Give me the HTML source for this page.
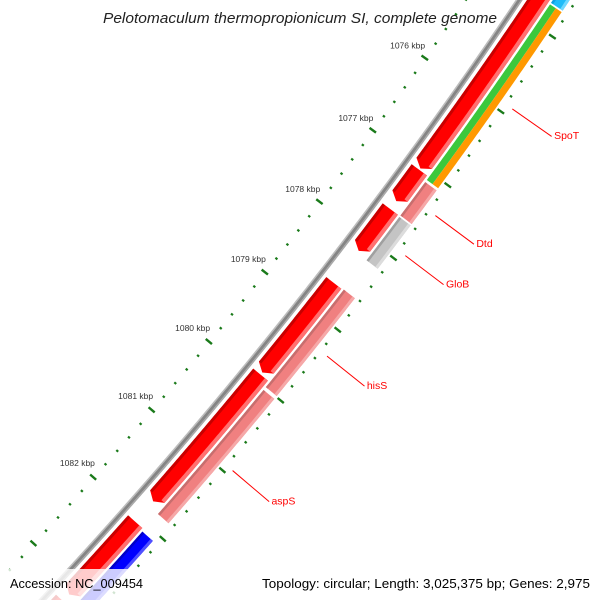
<!DOCTYPE html>
<html><head><meta charset="utf-8"><style>
html,body{margin:0;padding:0;background:#fff;width:600px;height:600px;overflow:hidden}
svg{display:block;overflow:hidden}
</style></head><body>
<svg id="map" width="600" height="600" viewBox="0 0 600 600" xmlns="http://www.w3.org/2000/svg">
<g id="marks"></g>
<text x="300" y="23" text-anchor="middle" font-family="'Liberation Sans',sans-serif" font-style="italic" font-size="15" fill="#222" textLength="394" lengthAdjust="spacingAndGlyphs">Pelotomaculum thermopropionicum SI, complete genome</text>
<rect x="0" y="569" width="600" height="31" fill="#fff" fill-opacity="0.8"/>
<text x="10" y="588" font-family="'Liberation Sans',sans-serif" font-size="13" fill="#000" textLength="133" lengthAdjust="spacingAndGlyphs">Accession: NC_009454</text>
<text x="590" y="588" text-anchor="end" font-family="'Liberation Sans',sans-serif" font-size="13" fill="#000" textLength="328" lengthAdjust="spacingAndGlyphs">Topology: circular; Length: 3,025,375 bp; Genes: 2,975</text>
</svg>
<script>
// ---- data ----
const majorTicks = [1074000,1075000,1076000,1077000,1078000,1079000,1080000,1081000,1082000,1083000,1084000];
const tickLabels = ["1074 kbp","1075 kbp","1076 kbp","1077 kbp","1078 kbp","1079 kbp","1080 kbp","1081 kbp","1082 kbp","",""];
const minorStep = 200;
const track1Starts = [1073800,1077050,1077590,1078620,1079920,1082060,1083250];
const track1Ends   = [1077030,1077480,1078170,1079890,1081760,1083150,1084200];
const track2Starts = [1074000,1074720,1077120,1077600,1078610,1080030,1082090];
const track2Ends   = [1074700,1077090,1077580,1078200,1079990,1081830,1083400];
const track2Kinds  = ["cyan","spot","pink","gray","pink","pink","blue"];
const labelNames = ["SpoT","Dtd","GloB","hisS","aspS"];
const labelFeature = [1,2,3,4,5];

function circle(p1,p2,p3){
  const ax=p1[0],ay=p1[1],bx=p2[0],by=p2[1],cx=p3[0],cy=p3[1];
  const d=2*(ax*(by-cy)+bx*(cy-ay)+cx*(ay-by));
  const ux=((ax*ax+ay*ay)*(by-cy)+(bx*bx+by*by)*(cy-ay)+(cx*cx+cy*cy)*(ay-by))/d;
  const uy=((ax*ax+ay*ay)*(cx-bx)+(bx*bx+by*by)*(ax-cx)+(cx*cx+cy*cy)*(bx-ax))/d;
  return [ux,uy,Math.hypot(ax-ux,ay-uy)];
}
const C=circle([492,40],[308,290],[70,570]);
const CX=C[0],CY=C[1],R0=C[2];
const aA=Math.atan2(58-CY,425-CX), aB=Math.atan2(477-CY,93-CX);
const kAng=(aB-aA)/6000;
function ang(bp){return aA+(bp-1076000)*kAng;}
function pt(bp,r){const a=ang(bp);return [CX+(R0+r)*Math.cos(a),CY+(R0+r)*Math.sin(a)];}
const NS="http://www.w3.org/2000/svg";
const G=document.getElementById('marks');
function mk(tag,attrs){const e=document.createElementNS(NS,tag);for(const k in attrs)e.setAttribute(k,attrs[k]);G.appendChild(e);return e;}
function arcPts(b1,b2,r){const n=Math.max(2,Math.ceil(Math.abs(b2-b1)/25));const o=[];for(let i=0;i<=n;i++){o.push(pt(b1+(b2-b1)*i/n,r));}return o;}
function bandPath(b1,b2,r1,r2){const a=arcPts(b1,b2,r1),b=arcPts(b2,b1,r2);return 'M'+a.concat(b).map(p=>p[0].toFixed(2)+','+p[1].toFixed(2)).join('L')+'Z';}
function arrowPath(b1,b2,r1,r2){const h=70;const body=Math.max(b1,b2-h);const a=arcPts(b1,body,r1);const tip=pt(b2,(r1+r2)/2);const b=arcPts(body,b1,r2);return 'M'+a.concat([tip]).concat(b).map(p=>p[0].toFixed(2)+','+p[1].toFixed(2)).join('L')+'Z';}

const bb=[[-3,-1.5,'#bdbdbd'],[-1.5,1.5,'#858585'],[1.5,3,'#a8a8a8']];
for(const s of bb){
  const e=mk('path',{d:bandPath(1073000,1085000,s[0],s[1]),fill:s[2]});
  
  
}
for(let i=0;i<majorTicks.length;i++){
  const b=majorTicks[i];
  const p1=pt(b,-49),p2=pt(b,-41);
  const t=mk('line',{x1:p1[0],y1:p1[1],x2:p2[0],y2:p2[1],stroke:'#1a7a1a','stroke-width':2.4});
  
  
  const q1=pt(b,44),q2=pt(b,52);
  const t2=mk('line',{x1:q1[0],y1:q1[1],x2:q2[0],y2:q2[1],stroke:'#1a7a1a','stroke-width':2.4});
  
  
  if(!tickLabels[i])continue;
  const lp=pt(b,-66);
  const l=mk('text',{x:lp[0],y:lp[1]+3,'text-anchor':'middle','font-family':"'Liberation Sans',sans-serif",'font-size':8.5,fill:'#333'});
  l.textContent=tickLabels[i];
  
  
}
for(let b=majorTicks[0];b<=majorTicks[majorTicks.length-1];b+=minorStep){
  if(b%1000===0)continue;
  const p1=pt(b,-45.5),p2=pt(b,-43);
  const d=mk('line',{x1:p1[0],y1:p1[1],x2:p2[0],y2:p2[1],stroke:'#1a7a1a','stroke-width':2.2});
  
  
  const q1=pt(b,46.5),q2=pt(b,49);
  const d2=mk('line',{x1:q1[0],y1:q1[1],x2:q2[0],y2:q2[1],stroke:'#1a7a1a','stroke-width':2.2});
  
  
}
for(let i=0;i<track1Starts.length;i++){
  const b1=track1Starts[i],b2=track1Ends[i];
  const g=mk('path',{d:arrowPath(b1,b2,6.5,25.5),fill:'#ff0000'});
  
  
  const s1=mk('path',{d:bandPath(b1,b2-70,6.5,9.5),fill:'#c80000'});
  
  
  const s2=mk('path',{d:bandPath(b1,b2-70,21.5,25.5),fill:'#ff7070'});
  
  
}
const palettes={pink:['#c86e6e','#f08080','#f6a8a8'],gray:['#a0a0a0','#c4c4c4','#dcdcdc'],blue:['#0000c8','#0000ff','#5050ff'],cyan:['#10a0e0','#20bcf8','#70d8ff']};
for(let i=0;i<track2Starts.length;i++){
  const b1=track2Starts[i],b2=track2Ends[i],k=track2Kinds[i];
  if(k==='spot'){
    const a=mk('path',{d:bandPath(b1,b2,28,35),fill:'#3cc83c'});
    
    
    const o=mk('path',{d:bandPath(b1,b2,35,42),fill:'#ff9900'});
    
    
    continue;
  }
  const p=palettes[k];
  const f=mk('path',{d:bandPath(b1,b2,28,42),fill:p[1]});
  
  
  const s1=mk('path',{d:bandPath(b1,b2,28,30.5),fill:p[0]});
  
  
  const s2=mk('path',{d:bandPath(b1,b2,39,42),fill:p[2]});
  
  
}
for(let i=0;i<labelNames.length;i++){
  const f=labelFeature[i];
  const mid=(track2Starts[f]+track2Ends[f])/2;
  const p1=pt(mid,56),p2=pt(mid,104),p3=pt(mid,107);
  const ln=mk('line',{x1:p1[0],y1:p1[1],x2:p2[0],y2:p2[1],stroke:'#ff0000','stroke-width':1});
  
  
  const t=mk('text',{x:p3[0],y:p3[1]+1,'font-family':"'Liberation Sans',sans-serif",'font-size':10.5,fill:'#ff0000'});
  t.textContent=labelNames[i];
  
  
}
</script>
</body></html>
